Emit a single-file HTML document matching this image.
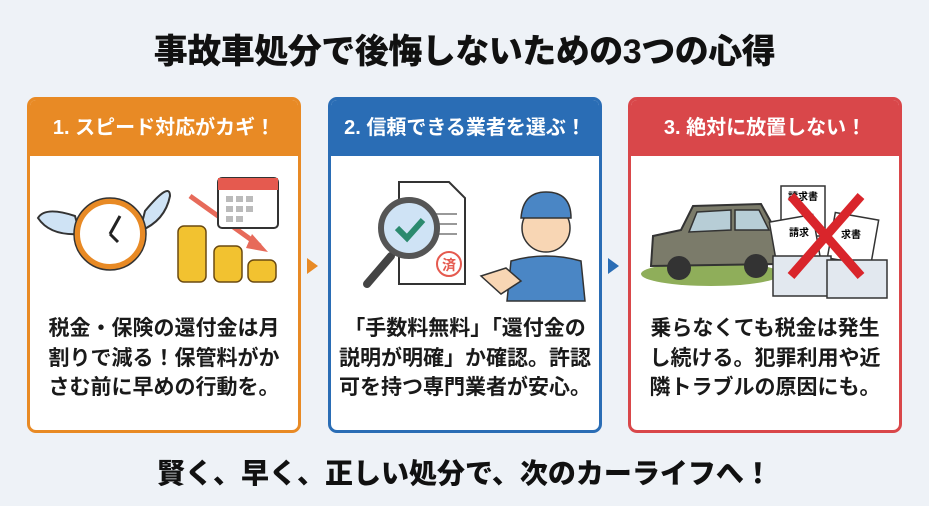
<!DOCTYPE html>
<html><head><meta charset="utf-8"><style>
*{margin:0;padding:0;box-sizing:border-box}
body{width:929px;height:506px;background:#eef2f7;font-family:"Liberation Sans","Noto Sans CJK JP",sans-serif;position:relative;overflow:hidden}
.title{position:absolute;left:0;width:929px;top:24px;text-align:center;font-size:34px;font-weight:900;color:#111;letter-spacing:-0.5px}
.card{position:absolute;top:97px;width:274px;height:336px;border:3px solid;border-radius:9px;background:#fff;overflow:hidden}
.hd{height:56px;color:#fff;font-size:20px;font-weight:700;text-align:center;line-height:56px}
.tx{position:absolute;left:0;right:0;top:214px;text-align:center;font-size:21px;font-weight:700;line-height:29.5px;color:#1a1a1a}
.ill{position:absolute;left:0;top:56px}
.arr{position:absolute;top:258px;width:0;height:0;border-top:8px solid transparent;border-bottom:8px solid transparent;border-left:11px solid}
.bot{position:absolute;left:0;width:929px;top:452px;text-align:center;font-size:28px;font-weight:900;color:#111}
</style></head><body>
<div class="title">事故車処分で後悔しないための3つの心得</div>

<div class="card" style="left:27px;border-color:#e88a25">
<div class="hd" style="background:#e88a25">1. スピード対応がカギ！</div>
<svg class="ill" width="268" height="150" viewBox="0 0 268 150">
<path d="M45 60 Q15 50 8 62 Q20 80 50 78Z" fill="#cfe3f5" stroke="#333" stroke-width="2"/>
<path d="M115 55 Q140 25 140 40 Q135 65 110 75Z" fill="#cfe3f5" stroke="#333" stroke-width="2"/>
<circle cx="80" cy="78" r="33" fill="#fff" stroke="#e88a25" stroke-width="6"/>
<circle cx="80" cy="78" r="36" fill="none" stroke="#333" stroke-width="1.5"/>
<path d="M80 78 L90 60 M80 78 L88 86" stroke="#222" stroke-width="3"/>
<path d="M160 40 L230 90" stroke="#e76a5a" stroke-width="5"/><path d="M222 78 L238 96 L216 92Z" fill="#e76a5a"/>
<rect x="188" y="22" width="60" height="50" rx="4" fill="#fff" stroke="#333" stroke-width="2"/>
<rect x="188" y="22" width="60" height="12" fill="#e55a4f"/>
<g fill="#bbb"><rect x="196" y="40" width="7" height="6"/><rect x="206" y="40" width="7" height="6"/><rect x="216" y="40" width="7" height="6"/><rect x="196" y="50" width="7" height="6"/><rect x="206" y="50" width="7" height="6"/><rect x="216" y="50" width="7" height="6"/><rect x="196" y="60" width="7" height="6"/><rect x="206" y="60" width="7" height="6"/></g>
<g fill="#f2c230" stroke="#6b4a10" stroke-width="1.5">
<rect x="148" y="70" width="28" height="56" rx="6"/><rect x="184" y="90" width="28" height="36" rx="6"/><rect x="218" y="104" width="28" height="22" rx="6"/></g>
</svg>
<div class="tx">税金・保険の還付金は月<br>割りで減る！保管料がか<br>さむ前に早めの行動を。</div>
</div>
<div class="arr" style="left:307px;border-left-color:#e88a25"></div>

<div class="card" style="left:328px;border-color:#2a6db5">
<div class="hd" style="background:#2a6db5">2. 信頼できる業者を選ぶ！</div>
<svg class="ill" width="268" height="150" viewBox="0 0 268 150">
<path d="M68 26 L118 26 L134 42 L134 128 L68 128Z" fill="#fff" stroke="#333" stroke-width="2"/>
<g stroke="#999" stroke-width="2"><line x1="100" y1="58" x2="126" y2="58"/><line x1="100" y1="68" x2="126" y2="68"/><line x1="100" y1="78" x2="126" y2="78"/></g>
<circle cx="118" cy="108" r="12" fill="none" stroke="#e55a4f" stroke-width="2"/><text x="118" y="114" font-size="14" fill="#e55a4f" text-anchor="middle" font-weight="700">済</text>
<line x1="60" y1="100" x2="36" y2="128" stroke="#444" stroke-width="8" stroke-linecap="round"/>
<circle cx="78" cy="72" r="28" fill="#cfe3f5" stroke="#555" stroke-width="6"/>
<path d="M66 72 L76 82 L92 64" stroke="#2b8a6e" stroke-width="6" fill="none"/>
<path d="M176 145 L180 105 Q215 95 250 105 L254 145Z" fill="#4a86c5" stroke="#333" stroke-width="1.5"/>
<circle cx="215" cy="72" r="24" fill="#f8d6b4" stroke="#333" stroke-width="1.5"/>
<path d="M190 62 Q192 36 215 36 Q240 36 240 62Z" fill="#4a86c5" stroke="#333" stroke-width="1.5"/>
<path d="M150 120 L175 112 L190 125 L170 138Z" fill="#f8d6b4" stroke="#333" stroke-width="1.5"/>
</svg>
<div class="tx">「手数料無料」「還付金の<br>説明が明確」か確認。許認<br>可を持つ専門業者が安心。</div>
</div>
<div class="arr" style="left:608px;border-left-color:#2a6db5"></div>

<div class="card" style="left:628px;border-color:#d9474a">
<div class="hd" style="background:#d9474a">3. 絶対に放置しない！</div>
<svg class="ill" width="268" height="150" viewBox="0 0 268 150">
<ellipse cx="80" cy="118" rx="70" ry="12" fill="#8fae5a"/>
<path d="M20 110 L22 80 L50 74 L62 50 L130 48 L145 75 L145 108Z" fill="#7b7b6a" stroke="#333" stroke-width="2"/>
<path d="M66 56 L100 54 L100 74 L58 76Z" fill="#b7cdd6" stroke="#333" stroke-width="1.5"/>
<path d="M104 54 L128 54 L138 74 L104 74Z" fill="#b7cdd6" stroke="#333" stroke-width="1.5"/>
<circle cx="48" cy="112" r="12" fill="#333"/><circle cx="125" cy="110" r="12" fill="#333"/>
<rect x="150" y="30" width="44" height="50" fill="#fff" stroke="#333" stroke-width="1.5"/><text x="172" y="44" font-size="10" text-anchor="middle" font-weight="700">請求書</text>
<rect x="142" y="62" width="44" height="46" fill="#fff" stroke="#333" stroke-width="1.5" transform="rotate(-10 164 85)"/><text x="158" y="80" font-size="10" font-weight="700">請求</text>
<rect x="200" y="60" width="44" height="46" fill="#fff" stroke="#333" stroke-width="1.5" transform="rotate(10 222 83)"/><text x="210" y="82" font-size="10" font-weight="700">求書</text>
<path d="M142 100 L200 100 L200 140 L142 140Z" fill="#e2e8ef" stroke="#333" stroke-width="1.5"/>
<path d="M196 104 L256 104 L256 142 L196 142Z" fill="#e2e8ef" stroke="#333" stroke-width="1.5"/>
<path d="M160 40 L230 120 M230 40 L160 120" stroke="#d9252b" stroke-width="9"/>
</svg>
<div class="tx">乗らなくても税金は発生<br>し続ける。犯罪利用や近<br>隣トラブルの原因にも。</div>
</div>

<div class="bot">賢く、早く、正しい処分で、次のカーライフへ！</div>
</body></html>
